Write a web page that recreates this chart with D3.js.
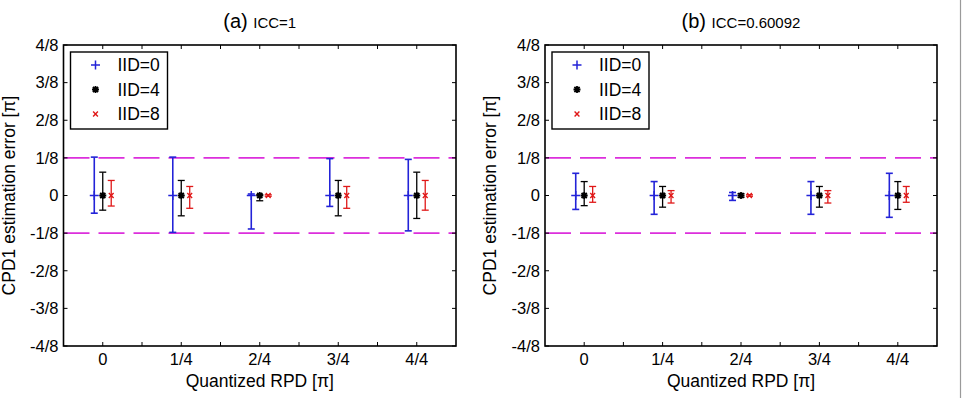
<!DOCTYPE html>
<html>
<head>
<meta charset="utf-8">
<script src="https://cdn.jsdelivr.net/npm/d3@7"></script>
<style>
  body { margin: 0; background: #fff; }
  svg { display: block; font-family: "Liberation Sans", Arial, sans-serif; }
</style>
</head>
<body>
<svg id="chart" width="966" height="398"></svg>
<script>
// quantized RPD positions (in units of pi) and their labels
const rpd = [0, 0.25, 0.5, 0.75, 1];
const rpdLabels = ['0', '1/4', '2/4', '3/4', '4/4'];

// y ticks in eighths of pi
const yTicks = [-4, -3, -2, -1, 0, 1, 2, 3, 4];
const yTickLabels = ['-4/8', '-3/8', '-2/8', '-1/8', '0', '1/8', '2/8', '3/8', '4/8'];

const seriesNames = ['IID=0', 'IID=4', 'IID=8'];
const seriesColors = ['#2323d8', '#000000', '#e01818'];
const seriesMarkers = ['plus', 'star', 'cross'];
const bound = 1; // +-1/8 pi dashed limits

// errors in eighths of pi, panel (a) ICC=1
const meanA = [[0, 0, 0, 0, 0], [0, 0, 0, 0, 0], [0, 0, 0, 0, 0]];
const upperA = [[1.02, 1.02, 0.04, 0.98, 0.96], [0.62, 0.40, 0.02, 0.40, 0.62], [0.40, 0.24, 0.02, 0.24, 0.40]];
const lowerA = [[0.47, 0.98, 0.89, 0.29, 0.94], [0.39, 0.54, 0.14, 0.54, 0.61], [0.28, 0.34, 0.02, 0.34, 0.39]];

// panel (b) ICC=0.60092
const meanB = [[0, 0, 0, 0, 0], [0, 0, 0, 0, 0], [0, 0, 0, 0, 0]];
const upperB = [[0.59, 0.37, 0.08, 0.37, 0.59], [0.37, 0.24, 0.05, 0.24, 0.37], [0.24, 0.13, 0.02, 0.13, 0.24]];
const lowerB = [[0.37, 0.50, 0.13, 0.50, 0.58], [0.27, 0.31, 0.05, 0.31, 0.37], [0.18, 0.20, 0.02, 0.20, 0.18]];

const offsets = [-0.027, 0, 0.027];

const svg = d3.select('#chart');

// frame line at right edge of the figure
svg.append('line')
  .attr('x1', 960.5).attr('x2', 960.5)
  .attr('y1', 0).attr('y2', 398)
  .attr('stroke', '#9a9a9a').attr('stroke-width', 1.2);

function drawPanel({left, right, top, bottom, tag, title, mean, upper, lower}) {
  const g = svg.append('g');

  let x = d3.scaleLinear()
    .domain([-0.125, 1.125])
    .range([left, right]);

  let y = d3.scaleLinear()
    .domain([-4, 4])
    .range([bottom, top]);

  // dashed bounds
  [bound, -bound].forEach(b => {
    g.append('line')
      .attr('x1', left).attr('x2', right)
      .attr('y1', y(b)).attr('y2', y(b))
      .attr('stroke', '#dc2fdc')
      .attr('stroke-width', 1.8)
      .attr('stroke-dasharray', '26,9');
  });

  // error bars
  seriesNames.forEach((name, s) => {
    const color = seriesColors[s];
    const cap = 3.5;
    const sg = g.append('g');
    rpd.forEach((r, i) => {
      const cx = x(r + offsets[s]);
      const yTop = y(mean[s][i] + upper[s][i]);
      const yBot = y(mean[s][i] - lower[s][i]);
      sg.append('line')
        .attr('x1', cx).attr('x2', cx)
        .attr('y1', yTop).attr('y2', yBot)
        .attr('stroke', color).attr('stroke-width', s === 0 ? 1.6 : 1.3);
      [yTop, yBot].forEach(yy => {
        sg.append('line')
          .attr('x1', cx - cap).attr('x2', cx + cap)
          .attr('y1', yy).attr('y2', yy)
          .attr('stroke', color).attr('stroke-width', s === 0 ? 1.6 : 1.3);
      });
      drawMarker(sg, seriesMarkers[s], cx, y(mean[s][i]), color);
    });
  });

  // ticks inside box
  const xTickVals = d3.range(0, 9).map(k => k * 0.125);
  xTickVals.forEach(v => {
    g.append('line').attr('x1', x(v)).attr('x2', x(v))
      .attr('y1', bottom).attr('y2', bottom - 4)
      .attr('stroke', '#000').attr('stroke-width', 1);
    g.append('line').attr('x1', x(v)).attr('x2', x(v))
      .attr('y1', top).attr('y2', top + 4)
      .attr('stroke', '#000').attr('stroke-width', 1);
  });
  yTicks.forEach(v => {
    g.append('line').attr('x1', left).attr('x2', left + 4)
      .attr('y1', y(v)).attr('y2', y(v))
      .attr('stroke', '#000').attr('stroke-width', 1);
    g.append('line').attr('x1', right).attr('x2', right - 4)
      .attr('y1', y(v)).attr('y2', y(v))
      .attr('stroke', '#000').attr('stroke-width', 1);
  });

  // axis box
  g.append('rect')
    .attr('x', left).attr('y', top)
    .attr('width', right - left).attr('height', bottom - top)
    .attr('fill', 'none').attr('stroke', '#000').attr('stroke-width', 1.6);

  // tick labels
  g.selectAll('.xl').data(rpd).enter().append('text')
    .attr('x', d => x(d)).attr('y', bottom + 19)
    .attr('text-anchor', 'middle')
    .attr('font-size', 16.5)
    .text((d, i) => rpdLabels[i]);

  g.selectAll('.yl').data(yTicks).enter().append('text')
    .attr('x', left - 5).attr('y', d => y(d))
    .attr('dy', '0.35em')
    .attr('text-anchor', 'end')
    .attr('font-size', 16.5)
    .text((d, i) => yTickLabels[i]);

  // axis titles
  g.append('text')
    .attr('x', (left + right) / 2).attr('y', bottom + 41)
    .attr('text-anchor', 'middle')
    .attr('font-size', 17.5)
    .text('Quantized RPD [π]');

  g.append('text')
    .attr('transform', `translate(${left - 49},${(top + bottom) / 2}) rotate(-90)`)
    .attr('text-anchor', 'middle')
    .attr('font-size', 17.5)
    .text('CPD1 estimation error [π]');

  // title
  let t = g.append('text')
    .attr('x', (left + right) / 2).attr('y', 28)
    .attr('text-anchor', 'middle');
  t.append('tspan').attr('font-size', 20).text(tag + ' ');
  t.append('tspan').attr('font-size', 15).text(title);

  // legend
  const lx = left + 7, ly = top + 7;
  g.append('rect')
    .attr('x', lx).attr('y', ly)
    .attr('width', 97).attr('height', 77)
    .attr('fill', '#fff').attr('stroke', '#000').attr('stroke-width', 1.4);
  seriesNames.forEach((name, s) => {
    const ry = ly + 13 + s * 24.5;
    drawMarker(g, seriesMarkers[s], lx + 25, ry, seriesColors[s]);
    g.append('text')
      .attr('x', lx + 47).attr('y', ry)
      .attr('dy', '0.36em')
      .attr('font-size', 17.5)
      .text(name);
  });
}

function drawMarker(sel, type, cx, cy, color) {
  if (type === 'plus') {
    const r = 4.5;
    sel.append('path')
      .attr('d', `M${cx - r},${cy}H${cx + r}M${cx},${cy - r}V${cy + r}`)
      .attr('stroke', color).attr('stroke-width', 1.5).attr('fill', 'none');
  } else if (type === 'star') {
    const r = 3.5, d = 2.6;
    sel.append('path')
      .attr('d', `M${cx - r},${cy}H${cx + r}M${cx},${cy - r}V${cy + r}` +
        `M${cx - d},${cy - d}L${cx + d},${cy + d}M${cx - d},${cy + d}L${cx + d},${cy - d}`)
      .attr('stroke', color).attr('stroke-width', 1.8).attr('fill', 'none');
  } else {
    const d = 2.4;
    sel.append('path')
      .attr('d', `M${cx - d},${cy - d}L${cx + d},${cy + d}M${cx - d},${cy + d}L${cx + d},${cy - d}`)
      .attr('stroke', color).attr('stroke-width', 1.4).attr('fill', 'none');
  }
}

drawPanel({left: 63.5, right: 456, top: 45, bottom: 346, tag: '(a)', title: 'ICC=1',
  mean: meanA, upper: upperA, lower: lowerA});
drawPanel({left: 545, right: 937, top: 45, bottom: 346, tag: '(b)', title: 'ICC=0.60092',
  mean: meanB, upper: upperB, lower: lowerB});
</script>
</body>
</html>
